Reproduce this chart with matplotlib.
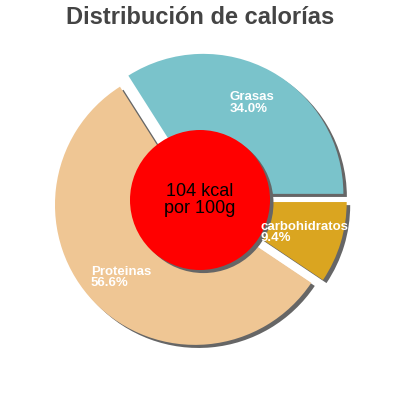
import matplotlib.pyplot as plt
from matplotlib.patches import Circle

plt.rcParams['font.family'] = ['Liberation Sans', 'DejaVu Sans']

# order follows the pie, counter-clockwise from 3 o'clock
labels = ['Grasas', 'Proteinas', 'carbohidratos']
values = [34.0, 56.6, 9.4]
colors = ['#7ac3cb', '#efc694', '#daa520']
explode = [0.05, 0.05, 0.05]
label_pos = [(0.214, 0.775), (-0.779, -0.47), (0.429, -0.15)]

fig = plt.figure(figsize=(4, 4), dpi=100)
ax = fig.add_axes([0, 0, 1, 1])
ax.set_aspect('equal')
ax.axis('off')

# shadow pie, shifted a bit right and down
ax.pie(values, explode=explode, colors=['#666666'] * 3, startangle=0,
       center=(0.025, -0.022), radius=1,
       wedgeprops={'linewidth': 0, 'zorder': 1})
ax.pie(values, explode=explode, colors=colors, startangle=0,
       radius=1, wedgeprops={'linewidth': 0, 'zorder': 2})

lim = 200 / 140
ax.set_xlim(-lim, lim)
ax.set_ylim(-lim, lim)

for lab, v, (x, y) in zip(labels, values, label_pos):
    ax.text(x, y, f'{lab}\n{v:.1f}%', color='white', fontsize=9.5,
            fontweight='bold', ha='left', va='top', linespacing=0.9, zorder=5)

ax.add_patch(Circle((0.025, -0.022), 0.5, color='#666666', zorder=3, lw=0))
ax.add_patch(Circle((0, 0), 0.5, color='#ff0000', zorder=4, lw=0))
ax.text(0, 0, '104 kcal\npor 100g', fontsize=13, ha='center', va='center',
        linespacing=1.0, zorder=6)

fig.text(0.5, 0.955, 'Distribución de calorías', fontsize=17,
         fontweight='bold', color='#444444', ha='center', va='center')

fig.savefig('out.png', dpi=100)
